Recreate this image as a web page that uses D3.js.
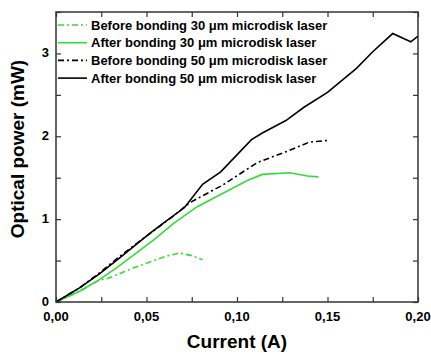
<!DOCTYPE html>
<html>
<head>
<meta charset="utf-8">
<script src="https://cdn.jsdelivr.net/npm/d3@7"></script>
<style>
  body { margin: 0; background: #fff; }
  text { font-family: "Liberation Sans", Arial, sans-serif; font-weight: bold; }
</style>
</head>
<body>
<svg id="chart" width="431" height="354"></svg>
<script>
// curves: [current A, power mW]
const before30 = [[0,0],[0.013,0.13],[0.024,0.265],[0.028,0.28],[0.035,0.34],[0.0425,0.41],[0.054,0.5],[0.062,0.56],[0.0685,0.59],[0.075,0.56],[0.081,0.51]];
const after30 = [[0,0],[0.013,0.13],[0.024,0.27],[0.034,0.42],[0.043,0.57],[0.054,0.75],[0.065,0.95],[0.078,1.15],[0.092,1.31],[0.106,1.47],[0.114,1.54],[0.129,1.56],[0.139,1.52],[0.145,1.51]];
const before50 = [[0,0],[0.013,0.17],[0.024,0.35],[0.034,0.53],[0.049,0.78],[0.065,1.04],[0.074,1.2],[0.092,1.41],[0.111,1.68],[0.129,1.83],[0.14,1.93],[0.15,1.95]];
const after50 = [[0,0],[0.013,0.17],[0.024,0.34],[0.034,0.51],[0.052,0.83],[0.061,0.98],[0.071,1.14],[0.081,1.42],[0.091,1.57],[0.108,1.96],[0.114,2.04],[0.127,2.19],[0.137,2.35],[0.15,2.53],[0.166,2.82],[0.175,3.02],[0.186,3.24],[0.196,3.14],[0.2,3.21]];

const seriesNames = ["Before bonding 30 \u03bcm microdisk laser", "After bonding 30 \u03bcm microdisk laser",
  "Before bonding 50 \u03bcm microdisk laser", "After bonding 50 \u03bcm microdisk laser"];
const xTicks = [0, 0.05, 0.10, 0.15, 0.20];
const yTicks = [0, 1, 2, 3];

const green = "#33dd33";
const series = [
  { name: seriesNames[0], data: before30, color: green, dash: "6,3,2,3" },
  { name: seriesNames[1], data: after30, color: green, dash: null },
  { name: seriesNames[2], data: before50, color: "#000", dash: "6,3,2,3" },
  { name: seriesNames[3], data: after50, color: "#000", dash: null }
];

const svg = d3.select("#chart");
const m = { left: 56, right: 13, top: 12, bottom: 52 };
const W = 431, H = 354;
const x = d3.scaleLinear().domain([0, 0.2]).range([m.left, W - m.right]);
const y = d3.scaleLinear().domain([0, 3.5]).range([H - m.bottom, m.top]);

const fmt = d => d3.format(".2f")(d).replace(".", ",");

// curves
const line = d3.line().x(d => x(d[0])).y(d => y(d[1]));
svg.selectAll("path.curve").data(series).enter().append("path")
  .attr("class", "curve")
  .attr("d", d => line(d.data))
  .attr("fill", "none")
  .attr("stroke", d => d.color)
  .attr("stroke-width", 1.6)
  .attr("stroke-dasharray", d => d.dash);

// axes, ticks pointing inwards
const frame = "#333";
const xMinor = d3.range(0, 0.2001, 0.025);
const yMinor = d3.range(0, 3.501, 0.5);
const g = svg.append("g");
g.append("g").attr("transform", `translate(0,${y(0)})`)
  .call(d3.axisBottom(x).tickValues(xMinor).tickSize(-5).tickFormat(""));
g.append("g").attr("transform", `translate(0,${y(3.5)})`)
  .call(d3.axisTop(x).tickValues(xMinor).tickSize(-5).tickFormat(""));
g.append("g").attr("transform", `translate(${x(0)},0)`)
  .call(d3.axisLeft(y).tickValues(yMinor).tickSize(-5).tickFormat(""));
g.append("g").attr("transform", `translate(${x(0.2)},0)`)
  .call(d3.axisRight(y).tickValues(yMinor).tickSize(-5).tickFormat(""));
g.selectAll(".domain").remove();
g.selectAll(".tick line").attr("stroke", frame).attr("stroke-width", 1.2);

svg.append("rect")
  .attr("x", x(0)).attr("y", y(3.5))
  .attr("width", x(0.2) - x(0)).attr("height", y(0) - y(3.5))
  .attr("fill", "none").attr("stroke", frame).attr("stroke-width", 1.5);

// tick labels
svg.selectAll("text.xt").data(xTicks).enter().append("text")
  .attr("x", d => x(d)).attr("y", y(0) + 19)
  .attr("text-anchor", "middle").attr("font-size", 13)
  .text(fmt);
svg.selectAll("text.yt").data(yTicks).enter().append("text")
  .attr("x", x(0) - 7).attr("y", d => y(d) + 4)
  .attr("text-anchor", "end").attr("font-size", 13)
  .text(d => d);

// axis titles
svg.append("text").attr("x", 237).attr("y", 348)
  .attr("text-anchor", "middle").attr("font-size", 19).text("Current (A)");
svg.append("text").attr("transform", "translate(24,149) rotate(-90)")
  .attr("text-anchor", "middle").attr("font-size", 19).text("Optical power (mW)");

// legend
const lg = svg.append("g");
series.forEach((s, i) => {
  const ly = 25 + i * 17.7;
  lg.append("line").attr("x1", 58).attr("x2", 87).attr("y1", ly).attr("y2", ly)
    .attr("stroke", s.color).attr("stroke-width", 1.6).attr("stroke-dasharray", s.dash);
  lg.append("text").attr("x", 91).attr("y", ly + 4.5).attr("font-size", 13).text(s.name);
});
</script>
</body>
</html>
